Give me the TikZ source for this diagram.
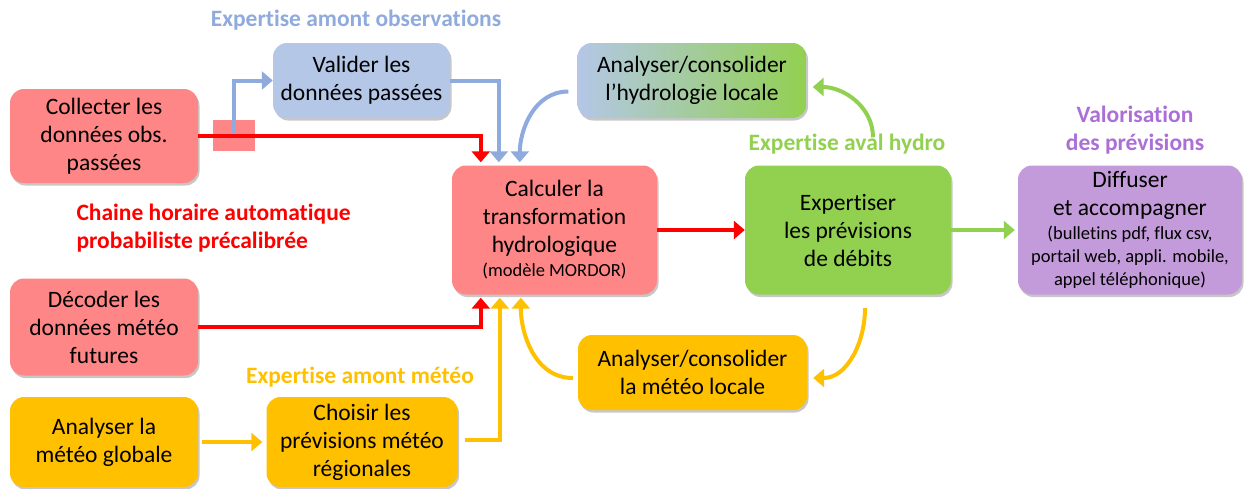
\documentclass[tikz,border=0pt]{standalone}
\usepackage{fontspec}
\setmainfont{Carlito}[Ligatures=NoCommon]
\usetikzlibrary{arrows.meta,shadows}

\definecolor{redbox}{HTML}{FF8686}
\definecolor{redln}{HTML}{FF0000}
\definecolor{bluebox}{HTML}{B4C7E7}
\definecolor{blueln}{HTML}{8FAADC}
\definecolor{yel}{HTML}{FFC000}
\definecolor{grn}{HTML}{92D050}
\definecolor{purbox}{HTML}{C49BDA}
\definecolor{purtxt}{HTML}{AB6FD6}

\newcommand{\smalltxt}{\fontsize{18.5}{21}\selectfont}

\tikzset{
  box/.style={rounded corners=14pt, align=center, inner sep=2pt,
    font=\fontsize{23.5}{28}\selectfont,
    drop shadow={shadow xshift=1.5pt, shadow yshift=-2.5pt, opacity=0.22, fill=black}},
  conn/.style={line width=4pt, -{Triangle[width=18pt,length=11pt]}, shorten >=3pt},
  title/.style={font=\bfseries\fontsize{23.5}{28}\selectfont, align=center}
}

\begin{document}
\begin{tikzpicture}[x=1pt,y=-1pt]
\useasboundingbox (0,0) rectangle (1244,488);

% process boxes
\node[box, fill=redbox, minimum width=188pt, minimum height=94pt] (coll) at (104,136)
  {Collecter les\\données obs.\\passées};
\node[box, fill=bluebox, minimum width=177pt, minimum height=75pt] (val) at (361.5,80.5)
  {Valider les\\données passées};
\node[box, left color=bluebox, right color=grn, minimum width=229pt, minimum height=75pt] (hyd) at (692,80.5)
  {Analyser/consolider\\l’hydrologie locale};
\node[box, fill=redbox, minimum width=205pt, minimum height=129pt] (calc) at (554.5,230)
  {Calculer la\\transformation\\hydrologique\\[-4pt]\smalltxt (modèle MORDOR)};
\node[box, fill=grn, minimum width=206pt, minimum height=129pt] (exp) at (848,230)
  {Expertiser\\les prévisions\\de débits};
\node[box, fill=purbox, minimum width=224pt, minimum height=129pt] (dif) at (1130,230)
  {Diffuser\\et accompagner\\[-4pt]\smalltxt (bulletins pdf, flux csv,\\[-5pt]\smalltxt portail web, appli. mobile,\\[-5pt]\smalltxt appel téléphonique)};
\node[box, fill=redbox, minimum width=188pt, minimum height=97pt] (dec) at (104,327)
  {Décoder les\\données météo\\futures};
\node[box, fill=yel, minimum width=188pt, minimum height=90pt] (glob) at (104,442)
  {Analyser la\\météo globale};
\node[box, fill=yel, minimum width=191pt, minimum height=90pt] (cho) at (362,442)
  {Choisir les\\prévisions météo\\régionales};
\node[box, fill=yel, minimum width=229pt, minimum height=75pt] (met) at (692.5,372.5)
  {Analyser/consolider\\la météo locale};

% branching marker on the observation line
\node[fill=redbox, minimum width=42pt, minimum height=31pt, inner sep=0pt] (sq) at (234,135.5) {};

% section labels
\node[title, text=blueln] (lobs) at (356,20) {Expertise amont observations};
\node[title, text=grn] (lhyd) at (847,144) {Expertise aval hydro};
\node[title, text=purtxt] (lval) at (1135,130) {Valorisation\\des prévisions};
\node[title, text=redln, align=left, anchor=west] (lch) at (73,228) {Chaine horaire automatique\\probabiliste précalibrée};
\node[title, text=yel] (lmet) at (360,377) {Expertise amont météo};

% entry points on the model box
\coordinate (inR)  at ([xshift=29pt]calc.north west);
\coordinate (inB)  at ([xshift=47pt]calc.north west);
\coordinate (inC)  at ([xshift=68pt]calc.north west);
\coordinate (inR2) at ([xshift=29pt]calc.south west);
\coordinate (inY)  at ([xshift=48pt]calc.south west);
\coordinate (inY2) at ([xshift=69pt]calc.south west);

% observation branch
\draw[conn, blueln, shorten >=0pt] (sq.center) |- (val.west);
\draw[conn, blueln] (val.east) -| (inB);
\draw[conn, redln] (coll.east) -| (inR);
\draw[conn, blueln] ([xshift=-9pt,yshift=-11pt]hyd.west) to[out=180,in=90] (inC);

% weather branch
\draw[conn, redln] (dec.east) -| (inR2);
\draw[conn, yel, shorten >=4pt] ([xshift=4pt]glob.east) -- (cho.west);
\draw[conn, yel] ([xshift=7pt,yshift=2pt]cho.east) -| (inY);
\draw[conn, yel] ([xshift=-5pt,yshift=-5.5pt]met.west) to[out=180,in=-90] (inY2);

% forecast chain
\draw[conn, redln, shorten >=0pt] (calc.east) -- (exp.west);
\draw[conn, grn] (exp.east) -- (dif.west);
\draw[conn, grn, shorten >=0pt] ([xshift=25pt,yshift=28pt]exp.north) to[out=90,in=0] ([xshift=6pt,yshift=-6.5pt]hyd.east);
\draw[conn, yel, shorten >=0pt] ([xshift=17pt,yshift=-13.5pt]exp.south) to[out=-90,in=0] ([xshift=6pt,yshift=-5.5pt]met.east);
\end{tikzpicture}
\end{document}
